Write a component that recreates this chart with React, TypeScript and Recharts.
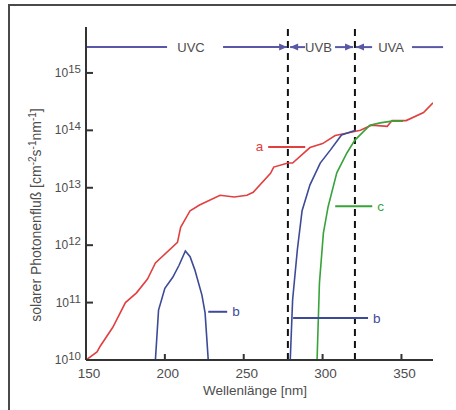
import React from 'react';
import { LineChart, Line, XAxis, YAxis, ReferenceLine, ReferenceDot } from 'recharts';

// Curve a (red): solar photon flux at top of atmosphere, log10 values
const aWavelength = [150, 157, 159, 167, 175, 182, 189, 194, 208, 210, 216, 222, 235, 244, 252, 256, 267, 269, 278, 281, 292, 300, 308, 315, 324, 331, 341, 344, 353, 364, 370];
const aExponent = [10.0, 10.14, 10.24, 10.57, 11.0, 11.17, 11.41, 11.69, 12.05, 12.31, 12.6, 12.7, 12.87, 12.84, 12.87, 12.92, 13.25, 13.36, 13.43, 13.43, 13.7, 13.77, 13.91, 13.95, 14.0, 14.09, 14.07, 14.17, 14.17, 14.31, 14.48];

// Curve b (blue), UVC window near 210 nm
const b1Wavelength = [194, 196, 200, 205, 209, 213, 216, 219, 223.5, 225.5, 227.5];
const b1Exponent = [10.0, 10.87, 11.25, 11.44, 11.65, 11.9, 11.8, 11.57, 11.13, 10.82, 10.0];

// Curve b (blue), above 280 nm
const b2Wavelength = [279.5, 281, 284, 287, 292, 298.5, 305, 312, 321];
const b2Exponent = [10.0, 11.05, 11.92, 12.6, 13.05, 13.43, 13.66, 13.92, 14.0];

// Curve c (green)
const cWavelength = [296.5, 298, 300.5, 303.5, 309, 315.5, 320.5, 330, 336.5, 344, 351];
const cExponent = [10.0, 11.34, 12.21, 12.67, 13.26, 13.61, 13.83, 14.09, 14.13, 14.16, 14.16];

const xTicks = [150, 200, 250, 300, 350];
const yTicks = [10, 11, 12, 13, 14, 15];

// UV band annotation
const bandNames = ['UVC', 'UVB', 'UVA'];
const bandNameX = [216.6, 297.4, 343.4];
const bandLevel = 15.45;
const bandBoundaries = [278, 320.5];
const bandSegFrom = [150, 236.9, 279.4, 307.9, 321.2, 356.7];
const bandSegTo = [201.4, 277.5, 288.9, 319.3, 331.4, 376.4];
const bandSegHead = ['none', 'end', 'start', 'end', 'start', 'none'];

// Curve callouts
const calloutText = ['a', 'c', 'b', 'b'];
const calloutFrom = [265.5, 308, 227.5, 281.3];
const calloutTo = [289, 331.5, 239.5, 328.8];
const calloutLevel = [13.71, 12.68, 10.84, 10.73];
const calloutSide = ['left', 'right', 'right', 'right'];
const calloutSeries = ['a', 'c', 'b', 'b'];

const RED = '#e0403f';
const BLUE = '#3d4b97';
const GREEN = '#38a33a';
const UVCOL = '#5a58a6';
const TEXT = '#4d4d4d';
const AXIS = '#333333';
const FONT = '"Liberation Sans", Arial, Helvetica, sans-serif';

const seriesColor: Record<string, string> = { a: RED, b: BLUE, c: GREEN };

const toPoints = (xs: number[], ys: number[]) => xs.map((x, i) => ({ x, y: ys[i] }));

const aData = toPoints(aWavelength, aExponent);
const b1Data = toPoints(b1Wavelength, b1Exponent);
const b2Data = toPoints(b2Wavelength, b2Exponent);
const cData = toPoints(cWavelength, cExponent);

const XTick = (p: any) => (
  <g>
    <line x1={p.x} x2={p.x} y1={p.y} y2={p.y - 6} stroke={AXIS} strokeWidth={2} />
    <text x={p.x + 3} y={p.y + 18} textAnchor="middle" fontSize={13.5} fill={TEXT} fontFamily={FONT}>
      {p.payload.value}
    </text>
  </g>
);

const YTick = (p: any) => (
  <g>
    <line x1={p.x} x2={p.x + 7} y1={p.y} y2={p.y} stroke={AXIS} strokeWidth={2} />
    <text x={p.x - 5} y={p.y + 4} textAnchor="end" fontSize={12} fill={TEXT} fontFamily={FONT}>
      <tspan>10</tspan>
      <tspan dy={-4} fontSize={11.5}>{p.payload.value}</tspan>
    </text>
  </g>
);

const makeArrow = (head: string) => (p: any) => {
  const { x1, y1, x2, y2 } = p;
  let pts: string | null = null;
  if (head === 'end') pts = `${x2},${y2} ${x2 - 8},${y2 - 3.5} ${x2 - 8},${y2 + 3.5}`;
  if (head === 'start') pts = `${x1},${y1} ${x1 + 8},${y1 - 3.5} ${x1 + 8},${y1 + 3.5}`;
  return (
    <g>
      <line x1={x1} y1={y1} x2={x2} y2={y2} stroke={UVCOL} strokeWidth={2} />
      {pts && <polygon points={pts} fill={UVCOL} />}
    </g>
  );
};

const makeCallout = (text: string, side: string, color: string) => (p: any) => {
  const { x1, y1, x2, y2 } = p;
  return (
    <g>
      <line x1={x1} y1={y1} x2={x2} y2={y2} stroke={color} strokeWidth={2} />
      <text
        x={side === 'left' ? x1 - 5 : x2 + 5}
        y={y1 + 4.5}
        textAnchor={side === 'left' ? 'end' : 'start'}
        fontSize={13.5}
        fill={color}
        fontFamily={FONT}
      >
        {text}
      </text>
    </g>
  );
};

const makeBandText = (text: string) => (p: any) => (
  <text x={p.cx} y={p.cy + 5} textAnchor="middle" fontSize={13} fill={TEXT} fontFamily={FONT}>
    {text}
  </text>
);

const XLabel = () => (
  <text x={255} y={395} textAnchor="middle" fontSize={13.5} fill={TEXT} fontFamily={FONT}>
    Wellenlänge [nm]
  </text>
);

const YLabel = () => (
  <text
    x={0}
    y={0}
    transform="translate(41,215) rotate(-90)"
    textAnchor="middle"
    fontSize={14}
    fill={TEXT}
    fontFamily={FONT}
  >
    <tspan>solarer Photonenfluß  [cm</tspan>
    <tspan dy={-5} fontSize={10}>-2</tspan>
    <tspan dy={5}>s</tspan>
    <tspan dy={-5} fontSize={10}>-1</tspan>
    <tspan dy={5}>nm</tspan>
    <tspan dy={-5} fontSize={10}>-1</tspan>
    <tspan dy={5}>]</tspan>
  </text>
);

export default function App() {
  return (
    <div
      style={{
        position: 'absolute',
        left: 0,
        top: 0,
        width: 456,
        height: 410,
        overflow: 'hidden',
        background: '#ffffff',
      }}
    >
      <div
        style={{
          position: 'absolute',
          left: 8,
          top: 4,
          width: 600,
          height: 600,
          borderLeft: '2px solid #4a4a4a',
          borderTop: '2px solid #4a4a4a',
        }}
      />
      <div style={{ position: 'absolute', left: 0, top: 0 }}>
        <LineChart width={456} height={410} margin={{ top: 27, right: 23, bottom: 20, left: 26 }}>
          <XAxis
            type="number"
            dataKey="x"
            domain={[150, 370]}
            ticks={xTicks}
            allowDataOverflow
            height={30}
            tickSize={0}
            tickMargin={0}
            tickLine={false}
            axisLine={{ stroke: AXIS, strokeWidth: 2 }}
            tick={<XTick />}
            label={<XLabel />}
          />
          <YAxis
            type="number"
            dataKey="y"
            domain={[10, 15.8]}
            ticks={yTicks}
            allowDataOverflow
            width={60}
            tickSize={0}
            tickMargin={0}
            tickLine={false}
            axisLine={{ stroke: AXIS, strokeWidth: 2 }}
            tick={<YTick />}
            label={<YLabel />}
          />
          {bandBoundaries.map((bx, i) => (
            <ReferenceLine
              key={'bd' + i}
              x={bx}
              stroke="#111111"
              strokeWidth={2}
              strokeDasharray="7 5"
              ifOverflow="visible"
            />
          ))}
          <Line data={aData} dataKey="y" stroke={RED} strokeWidth={1.6} dot={false} isAnimationActive={false} />
          <Line data={b1Data} dataKey="y" stroke={BLUE} strokeWidth={1.6} dot={false} isAnimationActive={false} />
          <Line data={b2Data} dataKey="y" stroke={BLUE} strokeWidth={1.6} dot={false} isAnimationActive={false} />
          <Line data={cData} dataKey="y" stroke={GREEN} strokeWidth={1.6} dot={false} isAnimationActive={false} />
          {bandSegFrom.map((x1, i) => (
            <ReferenceLine
              key={'bs' + i}
              segment={[
                { x: x1, y: bandLevel },
                { x: bandSegTo[i], y: bandLevel },
              ]}
              ifOverflow="visible"
              shape={makeArrow(bandSegHead[i])}
            />
          ))}
          {bandNames.map((n, i) => (
            <ReferenceDot
              key={'bn' + i}
              x={bandNameX[i]}
              y={bandLevel}
              r={0}
              ifOverflow="visible"
              shape={makeBandText(n)}
            />
          ))}
          {calloutText.map((t, i) => (
            <ReferenceLine
              key={'co' + i}
              segment={[
                { x: calloutFrom[i], y: calloutLevel[i] },
                { x: calloutTo[i], y: calloutLevel[i] },
              ]}
              ifOverflow="visible"
              shape={makeCallout(t, calloutSide[i], seriesColor[calloutSeries[i]])}
            />
          ))}
        </LineChart>
      </div>
    </div>
  );
}
